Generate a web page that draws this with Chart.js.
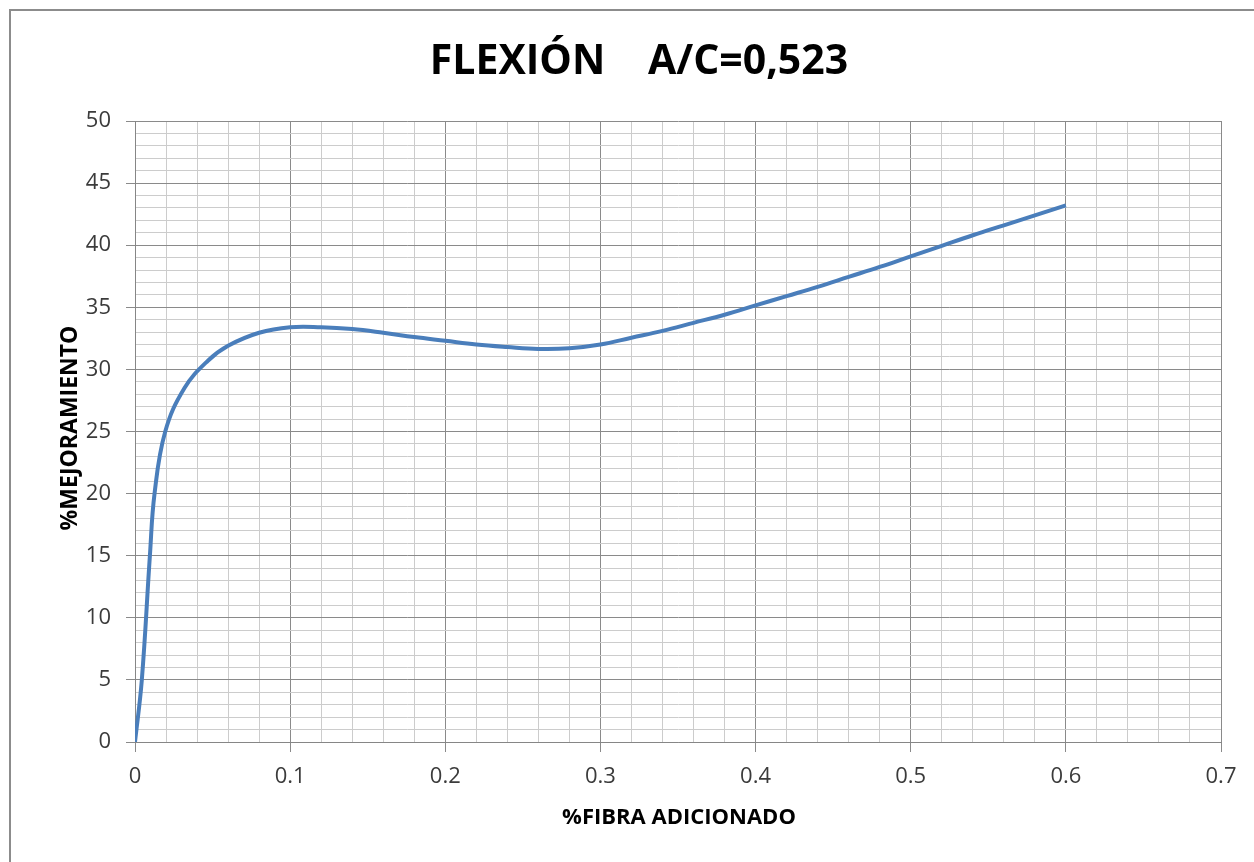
<!DOCTYPE html>
<html>
<head>
<meta charset="utf-8">
<script src="https://cdn.jsdelivr.net/npm/chart.js@4/dist/chart.umd.min.js"></script>
<style>
html,body{margin:0;padding:0;background:#fff;overflow:hidden;}
#wrap{position:absolute;left:0;top:0;width:1254px;height:862px;}
</style>
</head>
<body>
<div id="wrap"><canvas id="c" width="1254" height="862"></canvas></div>
<script>
const chartTitle = 'FLEXIÓN    A/C=0,523';
const xAxisTitle = '%FIBRA ADICIONADO';
const yAxisTitle = '%MEJORAMIENTO';
const fibra = [0, 0.0044, 0.0096, 0.0126, 0.0195, 0.0319, 0.047, 0.06, 0.08, 0.1, 0.12, 0.14, 0.16, 0.18, 0.2, 0.22, 0.24, 0.26, 0.28, 0.3, 0.32, 0.34, 0.36, 0.38, 0.4, 0.42, 0.44, 0.46, 0.48, 0.5, 0.52, 0.54, 0.56, 0.58, 0.6];
const mejora = [0, 5, 15, 20, 25, 28.5, 30.7, 31.9, 32.95, 33.4, 33.4, 33.25, 32.95, 32.6, 32.3, 32.0, 31.8, 31.65, 31.7, 32.0, 32.55, 33.1, 33.75, 34.4, 35.15, 35.9, 36.65, 37.45, 38.25, 39.1, 39.95, 40.8, 41.6, 42.4, 43.2];
const xTicks = [0, 0.1, 0.2, 0.3, 0.4, 0.5, 0.6, 0.7];
const yTicks = [0, 5, 10, 15, 20, 25, 30, 35, 40, 45, 50];

const points = fibra.map((x, i) => ({x: x, y: mejora[i]}));
const isMajorX = v => Math.abs(v * 10 - Math.round(v * 10)) < 1e-6;
const isMajorY = v => Math.abs(v / 5 - Math.round(v / 5)) < 1e-6;

const decor = {
  id: 'decor',
  afterDraw(chart) {
    const ctx = chart.ctx;
    ctx.save();
    ctx.strokeStyle = '#8c8c8c';
    ctx.lineWidth = 2;
    ctx.beginPath();
    ctx.moveTo(10, 870);
    ctx.lineTo(10, 10);
    ctx.lineTo(1260, 10);
    ctx.stroke();
    ctx.fillStyle = '#000';
    ctx.textAlign = 'center';
    ctx.textBaseline = 'middle';
    ctx.font = 'bold 41px "Open Sans", "Liberation Sans", sans-serif';
    ctx.fillText(chartTitle, 639, 62);
    ctx.font = 'bold 22px "Open Sans", "Liberation Sans", sans-serif';
    ctx.fillText(xAxisTitle, 679, 818);
    ctx.translate(70, 428);
    ctx.rotate(-Math.PI / 2);
    ctx.font = 'bold 23px "Open Sans", "Liberation Sans", sans-serif';
    ctx.fillText(yAxisTitle, 0, 0);
    ctx.restore();
  }
};

new Chart(document.getElementById('c'), {
  type: 'scatter',
  data: {
    datasets: [{
      data: points,
      showLine: true,
      borderColor: '#4a7ebb',
      backgroundColor: '#4a7ebb',
      borderWidth: 4,
      pointRadius: 0,
      tension: 0.4
    }]
  },
  options: {
    responsive: false,
    animation: false,
    layout: {padding: {left: 0, top: 121, right: 33, bottom: 0}},
    plugins: {legend: {display: false}, tooltip: {enabled: false}, title: {display: false}},
    scales: {
      x: {
        type: 'linear',
        min: xTicks[0],
        max: xTicks[xTicks.length - 1],
        afterFit(s) { s.height = 120; },
        border: {color: '#868686', width: 1},
        grid: {
          color: c => isMajorX(c.tick.value) ? '#8a8a8a' : '#cccccc',
          tickColor: c => isMajorX(c.tick.value) ? '#8a8a8a' : 'rgba(0,0,0,0)',
          tickLength: 10,
          lineWidth: 1
        },
        ticks: {
          stepSize: 0.02,
          autoSkip: false,
          maxRotation: 0,
          padding: 12,
          color: '#3b3b3b',
          font: {size: 22, family: '"Open Sans", "Liberation Sans", sans-serif'},
          callback: v => isMajorX(v) ? String(Math.round(v * 10) / 10) : ''
        }
      },
      y: {
        min: yTicks[0],
        max: yTicks[yTicks.length - 1],
        afterFit(s) { s.width = 135; },
        border: {color: '#868686', width: 1},
        grid: {
          color: c => isMajorY(c.tick.value) ? '#8a8a8a' : '#cccccc',
          tickColor: c => isMajorY(c.tick.value) ? '#8a8a8a' : 'rgba(0,0,0,0)',
          tickLength: 9,
          lineWidth: 1
        },
        ticks: {
          stepSize: 1,
          autoSkip: false,
          padding: 15,
          color: '#3b3b3b',
          font: {size: 22, family: '"Open Sans", "Liberation Sans", sans-serif'},
          callback: v => isMajorY(v) ? String(v) : ''
        }
      }
    }
  },
  plugins: [decor]
});
</script>
</body>
</html>
